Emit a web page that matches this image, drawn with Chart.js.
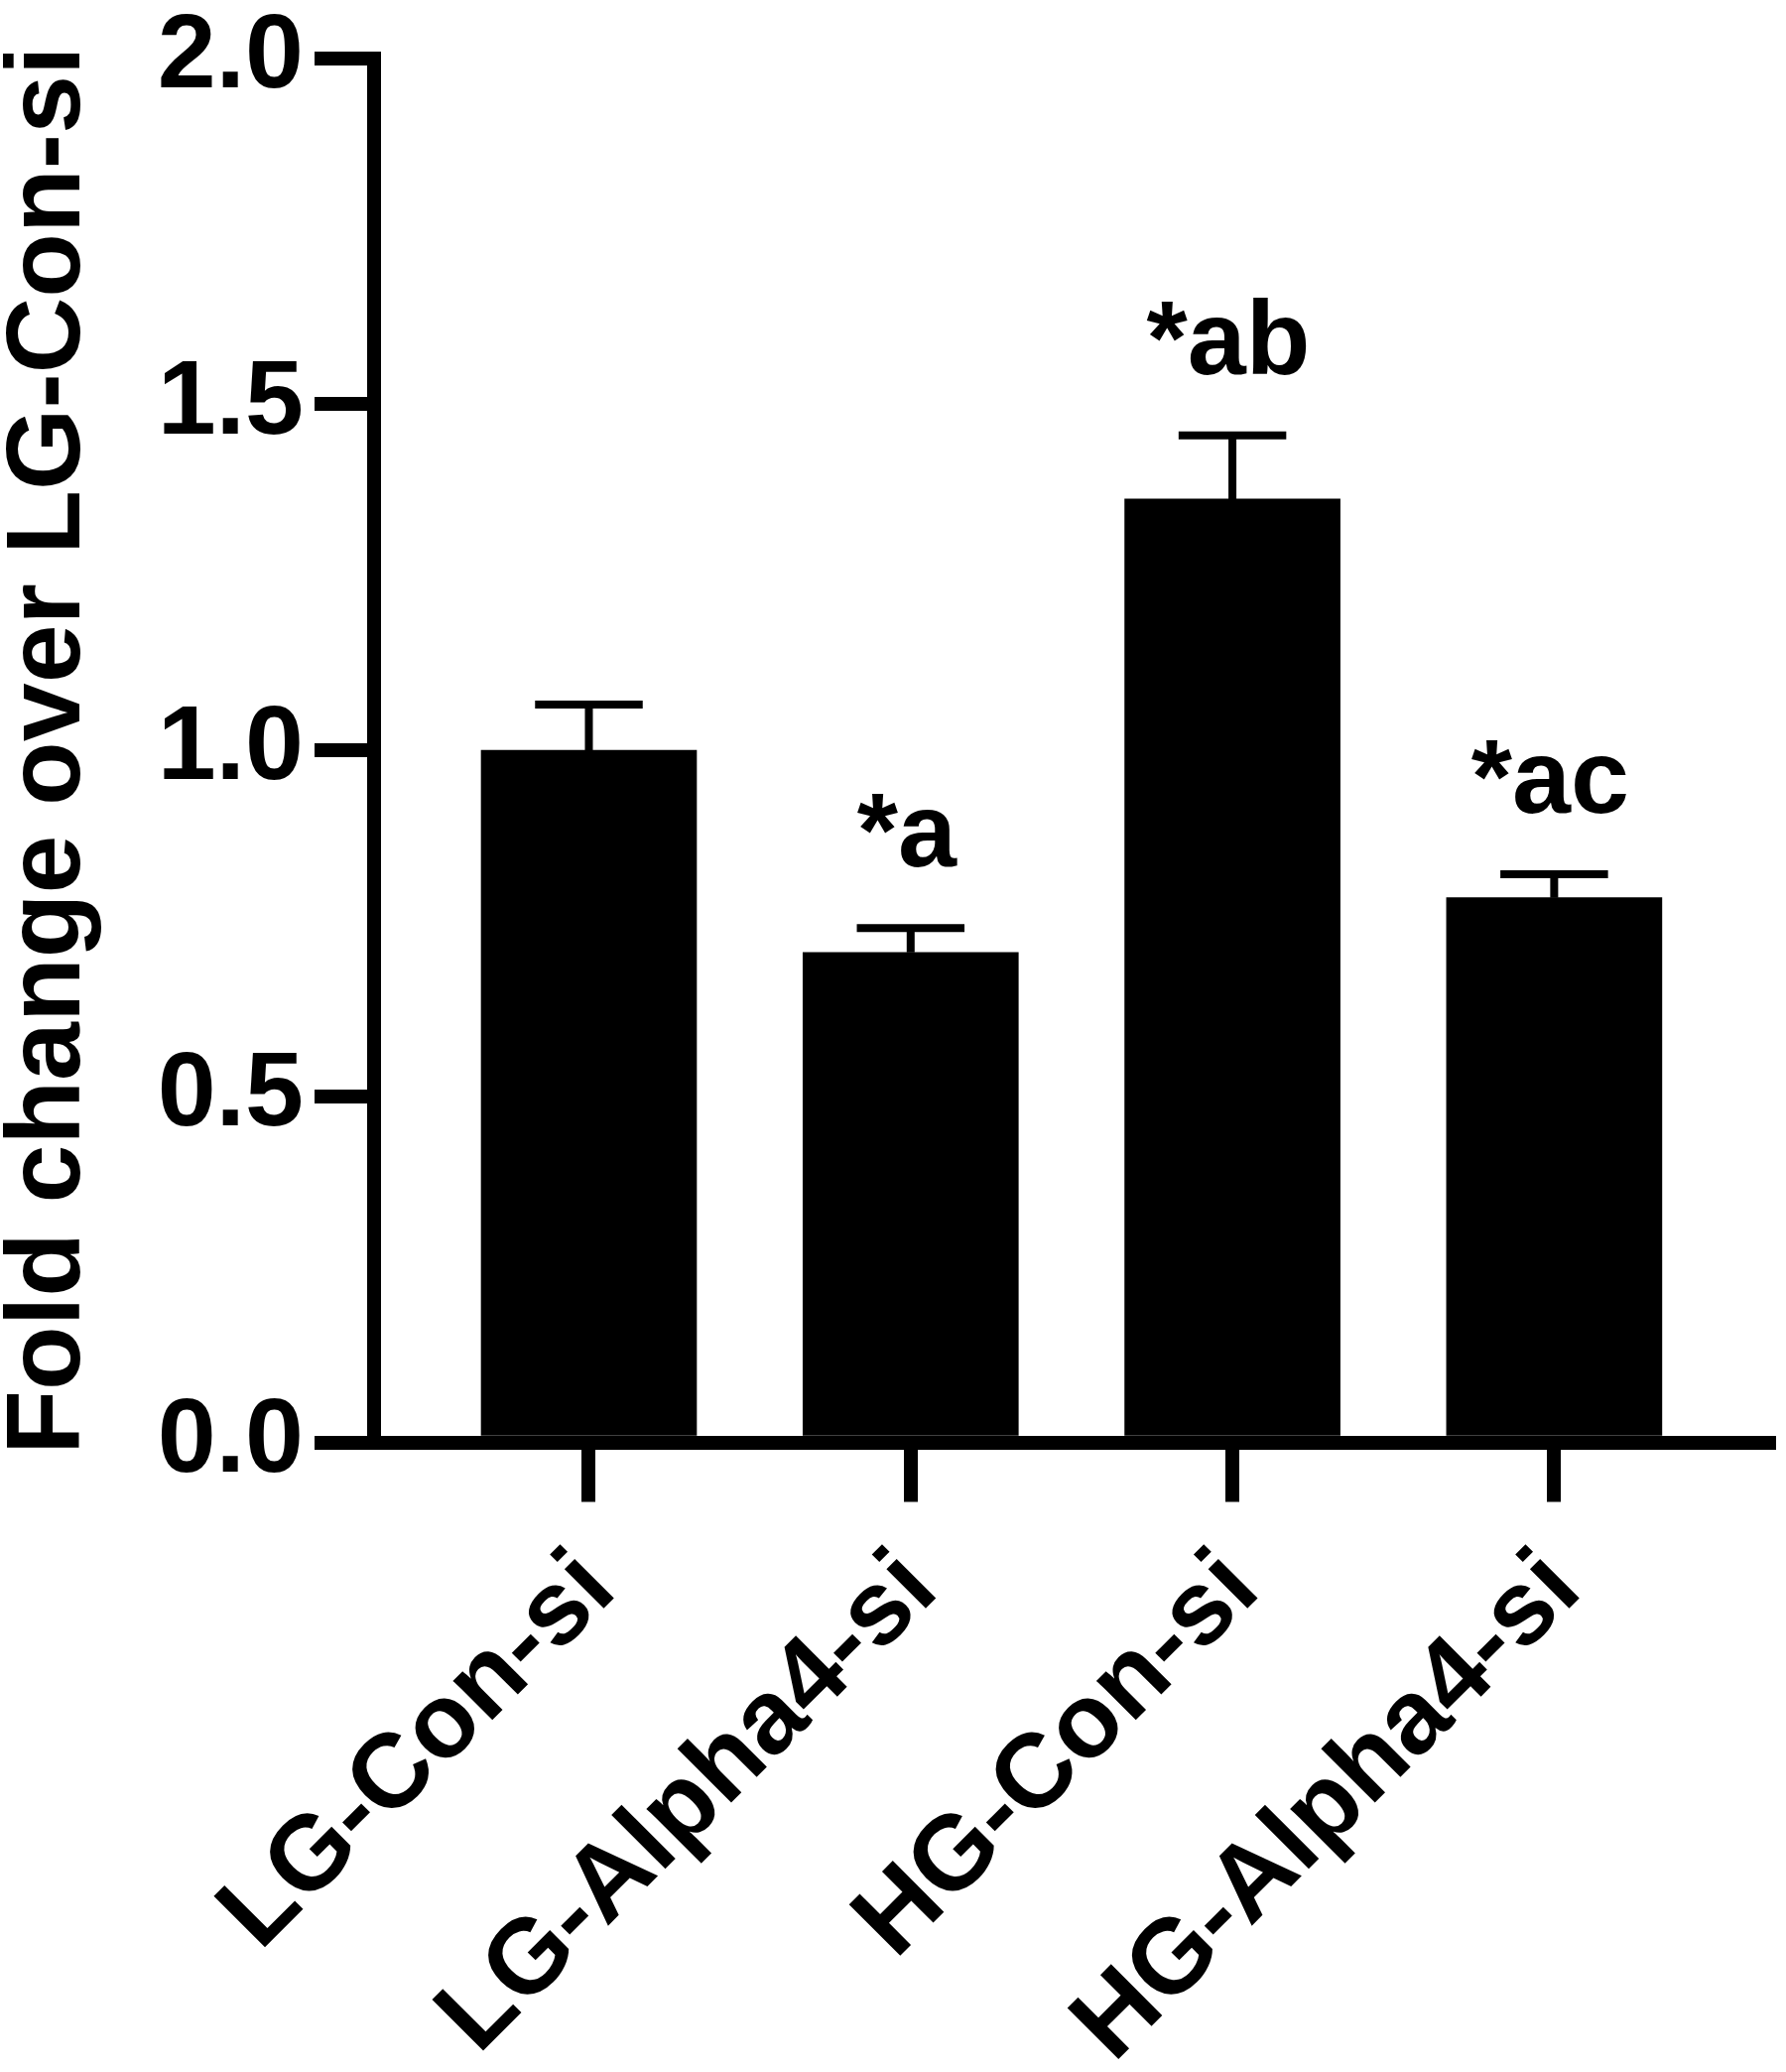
<!DOCTYPE html>
<html>
<head>
<meta charset="utf-8">
<script src="https://cdn.jsdelivr.net/npm/chart.js@4.4.1/dist/chart.umd.min.js"></script>
<style>
  body { margin: 0; background: #fff; }
  canvas { display: block; }
</style>
</head>
<body>
<canvas id="foldChart" width="1800" height="2088"></canvas>
<script>
// Data
const categories = ['LG-Con-si', 'LG-Alpha4-si', 'HG-Con-si', 'HG-Alpha4-si'];
const foldChange = [1.0, 0.708, 1.363, 0.787];
const sem = [0.066, 0.035, 0.092, 0.034];
const sigLabels = ['', '*a', '*ab', '*ac'];
const yTicks = [0, 0.5, 1.0, 1.5, 2.0];
const xTicks = [0, 1, 2, 3];

const fontFamily = '"Liberation Sans", Arial, Helvetica, sans-serif';

// error bars (upper only) + significance letters
const errorBarPlugin = {
  id: 'errorBars',
  afterDatasetsDraw(chart) {
    const ctx = chart.ctx;
    const y = chart.scales.y;
    const meta = chart.getDatasetMeta(0);
    ctx.save();
    ctx.strokeStyle = '#000';
    ctx.fillStyle = '#000';
    ctx.lineWidth = 8;
    meta.data.forEach(function(bar, i) {
      const top = y.getPixelForValue(foldChange[i] + sem[i]);
      const half = bar.width / 4;
      ctx.beginPath();
      ctx.moveTo(bar.x, bar.y);
      ctx.lineTo(bar.x, top);
      ctx.moveTo(bar.x - half, top);
      ctx.lineTo(bar.x + half, top);
      ctx.stroke();
      if (sigLabels[i]) {
        ctx.font = 'bold 106px ' + fontFamily;
        ctx.textAlign = 'center';
        ctx.textBaseline = 'alphabetic';
        ctx.fillText(sigLabels[i], bar.x - 4, top - 62);
      }
    });
    ctx.restore();
  }
};

const ctx = document.getElementById('foldChart').getContext('2d');
new Chart(ctx, {
  type: 'bar',
  data: {
    datasets: [{
      data: foldChange.map((v, i) => ({ x: i, y: v })),
      backgroundColor: '#000',
      borderWidth: 0,
      barThickness: 217
    }]
  },
  options: {
    responsive: false,
    animation: false,
    devicePixelRatio: 1,
    layout: { padding: { top: 50, right: 17, bottom: 0, left: 0 } },
    plugins: {
      legend: { display: false },
      tooltip: { enabled: false }
    },
    scales: {
      x: {
        type: 'linear',
        offset: false,
        bounds: 'data',
        min: -0.6676,
        max: 3.668,
        afterFit: function(scale) { scale.height = 634.5; },
        afterBuildTicks: function(scale) { scale.ticks = xTicks.map(v => ({ value: v })); },
        grid: { offset: false, drawOnChartArea: false, lineWidth: 14, tickWidth: 14, tickLength: 60, color: '#000' },
        border: { display: true, width: 14, color: '#000' },
        ticks: {
          autoSkip: false,
          maxRotation: 45,
          minRotation: 45,
          padding: 26,
          labelOffset: 10,
          color: '#000',
          font: { family: fontFamily, size: 106, weight: 'bold' },
          callback: function(v, i) { return categories[i]; }
        }
      },
      y: {
        min: 0,
        max: 2,
        afterFit: function(scale) { scale.width = 377; },
        afterBuildTicks: function(scale) { scale.ticks = yTicks.map(v => ({ value: v })); },
        grid: { drawOnChartArea: false, lineWidth: 14, tickWidth: 14, tickLength: 60, color: '#000' },
        border: { display: true, width: 14, color: '#000' },
        ticks: {
          padding: 11,
          color: '#000',
          font: { family: fontFamily, size: 106, weight: 'bold', lineHeight: 0.9 },
          callback: function(v) { return v.toFixed(1); }
        },
        title: {
          display: true,
          text: 'Fold change over LG-Con-si',
          color: '#000',
          padding: 0,
          font: { family: fontFamily, size: 106, weight: 'bold', lineHeight: 0.96 }
        }
      }
    }
  },
  plugins: [errorBarPlugin]
});
</script>
</body>
</html>
